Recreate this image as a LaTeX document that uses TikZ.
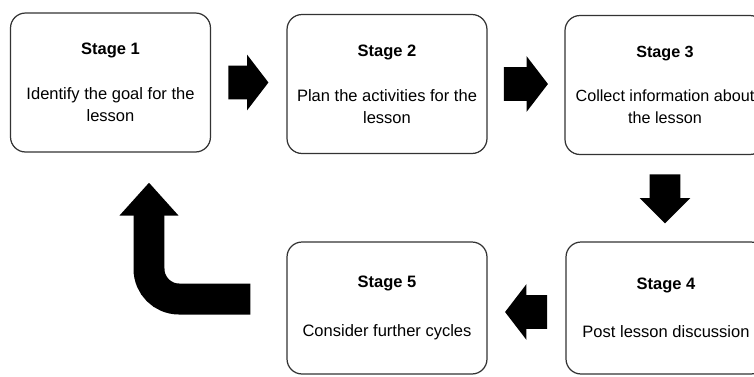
\documentclass[tikz,border=0pt]{standalone}
\usepackage{fontspec}
\setmainfont{Liberation Sans}
\usetikzlibrary{calc, shapes.arrows, arrows.meta}
\tikzset{>=stealth,
  stagebox/.style={draw=black!80, line width=0.7pt, rounded corners=0.3cm,
    minimum width=4cm, align=center, font=\fontsize{9.4}{12.5}\selectfont},
  blockarrow/.style={single arrow, fill=black, inner xsep=0pt, inner ysep=0.33cm,
    minimum height=0.84cm, anchor=tail,
    single arrow head extend=0.22cm, single arrow tip angle=105}}

\begin{document}
\begin{tikzpicture}[x=0.02cm, y=-0.02cm]
\useasboundingbox (0,0) rectangle (754,376);
\clip (0,0) rectangle (754,376);
\node[stagebox, minimum height=2.78cm] (s1) at (110.5,82.5)
  {\textbf{Stage 1}\\[13pt]Identify the goal for the\\lesson};
\node[stagebox, minimum height=2.78cm] (s2) at (387,84)
  {\textbf{Stage 2}\\[13pt]Plan the activities for the\\lesson};
\node[stagebox, minimum height=2.78cm, font=\fontsize{9.2}{12.5}\selectfont] (s3) at (665,85)
  {\textbf{Stage 3}\\[13pt]Collect information about\\the lesson};
\node[stagebox, minimum height=2.64cm] (s4) at (666,308)
  {\textbf{Stage 4}\\[15pt]Post lesson discussion};
\node[stagebox, minimum height=2.64cm] (s5) at (387,308)
  {\textbf{Stage 5}\\[15pt]Consider further cycles};
% arrows between the stages
\node[blockarrow, minimum height=0.8cm] (a12) at ($(s1.east)+(17,0)$) {};
\node[blockarrow, minimum height=0.88cm] (a23) at ($(s2.east)+(16,0)$) {};
\node[blockarrow, shape border rotate=270, inner xsep=0.3cm, inner ysep=0pt, minimum height=0.98cm,
  single arrow head extend=0.2cm, single arrow tip angle=90] (a34) at ($(s3.south)+(0,19)$) {};
\node[blockarrow, shape border rotate=180] (a45) at ($(s4.west)+(-18,4)$) {};
% back to stage 1
\coordinate (loopstart) at ($(s5.west)+(-36,-9)$);
\coordinate (loopend) at ($(s1.south)+(38.5,30)$);
\draw[line width=0.62cm, rounded corners=0.6cm, -{Triangle[width=1.14cm, length=0.66cm]}]
  (loopstart) -| (loopend);
\end{tikzpicture}
\end{document}
